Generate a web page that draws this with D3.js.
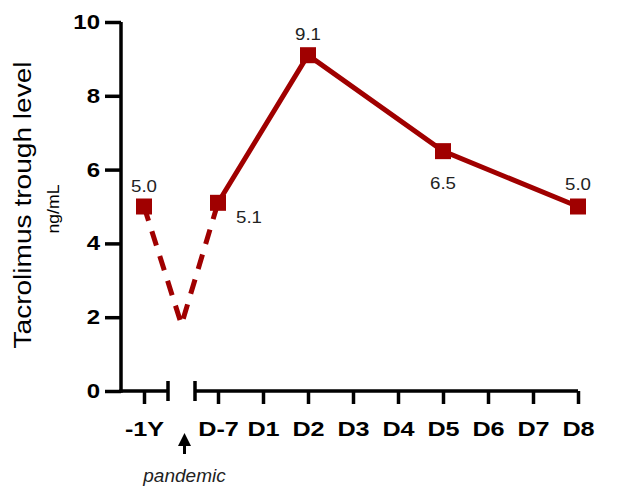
<!DOCTYPE html>
<html>
<head>
<meta charset="utf-8">
<script src="https://cdnjs.cloudflare.com/ajax/libs/d3/7.8.5/d3.min.js"></script>
<style>
  body { margin: 0; background: #fff; }
  svg { font-family: Arial, "Liberation Sans", sans-serif; }
  .axis path, .axis line { stroke: #000; stroke-width: 3.5; }
  .axis text { font-size: 20px; font-weight: bold; fill: #000; }
  .xaxis text { font-size: 21px; }
</style>
</head>
<body>
<svg id="chart"></svg>
<script>
// before the pandemic
var preCats = ["-1Y"]
var preVals = [5.0]
// after admission
var postCats = ["D-7","D1","D2","D3","D4","D5","D6","D7","D8"]
var postDays = ["D-7","D2","D5","D8"]
var postVals = [5.1,9.1,6.5,5.0]
var dipVal = 1.8
var yTicks = [0,2,4,6,8,10]

var screen = {width:621,height:487}
var svg = d3.select("#chart")
  .attr("width",screen.width)
  .attr("height",screen.height)

var red = "#a00000"
var stretch = 1.2

var yScale = d3.scaleLinear().domain([0,10]).range([391,22])
var xPre = d3.scalePoint().domain(preCats).range([144,144])
var xPost = d3.scalePoint().domain(postCats).range([218,578])
var axisStart = 121, preEnd = 168, postStart = 195
var dipX = (preEnd+postStart)/2

//widen tick text around its own anchor
var widen = function(g, sx)
{
    g.selectAll(".tick text").each(function()
    {
        var t = d3.select(this)
        var x = +t.attr("x") || 0
        t.attr("x",0).attr("transform","translate("+x+",0) scale("+sx+",1)")
    })
}

// y axis
svg.append("g")
  .attr("class","axis")
  .attr("transform","translate("+axisStart+",0)")
  .call(d3.axisLeft(yScale).tickValues(yTicks).tickSize(16).tickPadding(5).tickSizeOuter(0))
  .call(function(g){ g.select(".domain").attr("d","M0,"+yScale(10)+"V"+(yScale(0)+1.75)) })
  .call(widen, stretch)

// x axis, broken in two parts
var gPre = svg.append("g")
  .attr("class","axis xaxis")
  .attr("transform","translate(0,"+yScale(0)+")")
  .call(d3.axisBottom(xPre).tickSize(13).tickPadding(17).tickSizeOuter(0))
  .call(widen, stretch)
gPre.select(".domain").attr("d","M"+(axisStart-1.75)+",0H"+preEnd+"M"+preEnd+",-10V10")

var gPost = svg.append("g")
  .attr("class","axis xaxis")
  .attr("transform","translate(0,"+yScale(0)+")")
  .call(d3.axisBottom(xPost).tickSize(13).tickPadding(17).tickSizeOuter(0))
  .call(widen, stretch)
gPost.select(".domain").attr("d","M"+postStart+",-10V10M"+postStart+",0H"+xPost("D8"))

// dashed line through the pandemic gap
var dashed = [
  {x:xPre("-1Y"), y:preVals[0]},
  {x:dipX, y:dipVal},
  {x:xPost("D-7"), y:postVals[0]}
]
var line = d3.line()
  .x(function(d){ return d.x })
  .y(function(d){ return yScale(d.y) })

svg.append("path")
  .datum(dashed)
  .attr("d",line)
  .attr("fill","none")
  .attr("stroke",red)
  .attr("stroke-width",5)
  .attr("stroke-dasharray","15,11")

var solid = postDays.map(function(d,i){ return {x:xPost(d), y:postVals[i]} })
svg.append("path")
  .datum(solid)
  .attr("d",line)
  .attr("fill","none")
  .attr("stroke",red)
  .attr("stroke-width",5)

var pts = [{x:xPre("-1Y"), y:preVals[0]}].concat(solid)
svg.selectAll("rect.pt")
  .data(pts)
  .enter()
  .append("rect")
  .attr("class","pt")
  .attr("x",function(d){ return d.x-8 })
  .attr("y",function(d){ return yScale(d.y)-8 })
  .attr("width",16)
  .attr("height",16)
  .attr("fill",red)

// value labels
var offsets = [[0,-15],[18,20],[0,-15],[0,38],[0,-17]]
var anchors = ["middle","start","middle","middle","middle"]
svg.selectAll("text.val")
  .data(pts)
  .enter()
  .append("text")
  .attr("class","val")
  .attr("transform",function(d,i)
  {
      return "translate("+(d.x+offsets[i][0])+","+(yScale(d.y)+offsets[i][1])+") scale(1.1,1)"
  })
  .attr("text-anchor",function(d,i){ return anchors[i] })
  .attr("font-size",17)
  .attr("fill","#222")
  .text(function(d){ return d.y.toFixed(1) })

// y label
svg.append("text")
  .attr("transform","translate(31,205) rotate(-90) scale(1.17,1)")
  .attr("text-anchor","middle")
  .attr("font-size",24)
  .attr("fill","#000")
  .text("Tacrolimus trough level")

svg.append("text")
  .attr("transform","translate(59,209) rotate(-90) scale(1.1,1)")
  .attr("text-anchor","middle")
  .attr("font-size",16)
  .attr("fill","#000")
  .text("ng/mL")

// pandemic arrow
var arrowX = dipX+3
svg.append("line")
  .attr("x1",arrowX).attr("x2",arrowX)
  .attr("y1",454).attr("y2",442)
  .attr("stroke","#000").attr("stroke-width",3)
svg.append("path")
  .attr("d","M"+(arrowX-6.5)+",446L"+arrowX+",433L"+(arrowX+6.5)+",446Z")
  .attr("fill","#000")

svg.append("text")
  .attr("x",arrowX)
  .attr("y",482)
  .attr("text-anchor","middle")
  .attr("font-size",19)
  .attr("font-style","italic")
  .attr("fill","#222")
  .text("pandemic")
</script>
</body>
</html>
